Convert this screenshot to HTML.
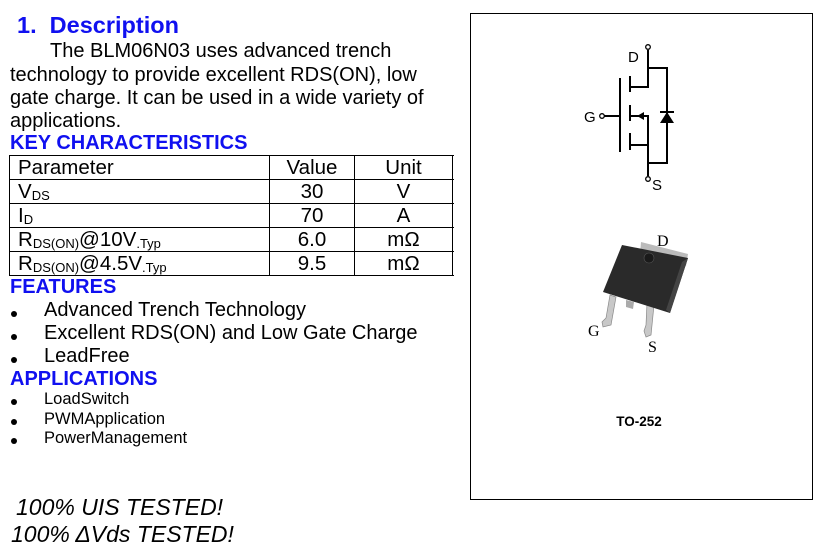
<!DOCTYPE html>
<html><head><meta charset="utf-8"><style>
body{margin:0;width:834px;height:555px;background:#fff;position:relative;overflow:hidden;font-family:"Liberation Sans",Arial,sans-serif;color:#000}
.a{position:absolute;white-space:nowrap;line-height:24px}
.h{color:#1010f0;font-weight:bold}
.t{font-size:20px}
.s{font-size:16.5px}
.b{position:absolute;left:11px;width:6px;height:6px;border-radius:50%;background:#000}
.c{position:absolute;height:24px;line-height:25px;font-size:20.5px;white-space:nowrap}
sub{font-size:13px;vertical-align:-2px;line-height:0}
.ln{position:absolute;background:#000}
</style></head><body>
<div class="a h" style="left:17px;top:13px;font-size:23.5px">1.&nbsp; Description</div>
<div class="a t" style="left:50px;top:39px">The BLM06N03 uses advanced trench</div>
<div class="a t" style="left:10px;top:63px">technology to provide excellent RDS(ON), low</div>
<div class="a t" style="left:10px;top:86px">gate charge. It can be used in a wide variety of</div>
<div class="a t" style="left:10px;top:109px">applications.</div>
<div class="a h" style="left:10px;top:131px;font-size:20px">KEY CHARACTERISTICS</div>
<div class="ln" style="left:9px;top:155px;width:445px;height:1.3px"></div>
<div class="ln" style="left:9px;top:179px;width:445px;height:1.3px"></div>
<div class="ln" style="left:9px;top:203px;width:445px;height:1.3px"></div>
<div class="ln" style="left:9px;top:227px;width:445px;height:1.3px"></div>
<div class="ln" style="left:9px;top:251px;width:445px;height:1.3px"></div>
<div class="ln" style="left:9px;top:275px;width:445px;height:1.3px"></div>
<div class="ln" style="left:9px;top:155px;width:1.3px;height:121px"></div>
<div class="ln" style="left:269px;top:155px;width:1.3px;height:121px"></div>
<div class="ln" style="left:354px;top:155px;width:1.3px;height:121px"></div>
<div class="ln" style="left:452px;top:155px;width:1.3px;height:121px"></div>
<div class="c" style="left:18px;top:155px">Parameter</div>
<div class="c" style="left:18px;top:179px">V<sub>DS</sub></div>
<div class="c" style="left:18px;top:203px">I<sub>D</sub></div>
<div class="c" style="left:18px;top:227px">R<sub>DS(ON)</sub>@10V<sub>.Typ</sub></div>
<div class="c" style="left:18px;top:251px">R<sub>DS(ON)</sub>@4.5V<sub>.Typ</sub></div>
<div class="c" style="left:270px;width:84px;text-align:center;top:155px">Value</div>
<div class="c" style="left:270px;width:84px;text-align:center;top:179px">30</div>
<div class="c" style="left:270px;width:84px;text-align:center;top:203px">70</div>
<div class="c" style="left:270px;width:84px;text-align:center;top:227px">6.0</div>
<div class="c" style="left:270px;width:84px;text-align:center;top:251px">9.5</div>
<div class="c" style="left:355px;width:97px;text-align:center;top:155px">Unit</div>
<div class="c" style="left:355px;width:97px;text-align:center;top:179px">V</div>
<div class="c" style="left:355px;width:97px;text-align:center;top:203px">A</div>
<div class="c" style="left:355px;width:97px;text-align:center;top:227px">mΩ</div>
<div class="c" style="left:355px;width:97px;text-align:center;top:251px">mΩ</div>
<div class="a h" style="left:10px;top:275px;font-size:20px">FEATURES</div>
<div class="b" style="top:311px"></div><div class="a t" style="left:44px;top:298px">Advanced Trench Technology</div>
<div class="b" style="top:334px"></div><div class="a t" style="left:44px;top:321px">Excellent RDS(ON) and Low Gate Charge</div>
<div class="b" style="top:357px"></div><div class="a t" style="left:44px;top:344px">LeadFree</div>
<div class="a h" style="left:10px;top:367px;font-size:20px">APPLICATIONS</div>
<div class="b" style="top:399px"></div><div class="a s" style="left:44px;top:387px">LoadSwitch</div>
<div class="b" style="top:419px"></div><div class="a s" style="left:44px;top:407px">PWMApplication</div>
<div class="b" style="top:438px"></div><div class="a s" style="left:44px;top:426px">PowerManagement</div>
<div class="a" style="left:16px;top:495px;font-size:23px;font-style:italic">100% UIS TESTED!</div>
<div class="a" style="left:11px;top:522px;font-size:23px;font-style:italic">100% ΔVds TESTED!</div>
<div style="position:absolute;left:470px;top:13px;width:341px;height:485px;border:1px solid #000"></div>
<svg style="position:absolute;left:0;top:0" width="834" height="555">
<g stroke="#000" stroke-width="2" fill="none">
<circle cx="648" cy="47" r="2.3" stroke-width="1.3"/>
<circle cx="648" cy="179" r="2.3" stroke-width="1.3"/>
<circle cx="602" cy="116" r="2.3" stroke-width="1.3"/>
<path d="M648 50V87H630M648 68H667V163H648M648 176V116H630M648 145H630M604 116H620M620 78V152M630 76V92M630 105V121M630 133V150M660 112H674"/>
</g>
<polygon points="637,116 644,112 644,120" fill="#000"/>
<polygon points="667,112 660,123 674,123" fill="#000"/>
<text x="628" y="62" font-size="15" font-family="Liberation Sans">D</text>
<text x="584" y="122" font-size="15" font-family="Liberation Sans">G</text>
<text x="652" y="190" font-size="15" font-family="Liberation Sans">S</text>
<polygon points="641,242 688,254 686,266 640,254" fill="#bbb"/>
<polygon points="610,295 616,297 611,325 603,327 602,322 606,318" fill="#c8c8c8" stroke="#888" stroke-width="0.7"/>
<polygon points="647,303 654,305 651,335 646,337 644,331 646,325" fill="#c8c8c8" stroke="#888" stroke-width="0.7"/>
<polygon points="626,300 634,302 633,309 626,307" fill="#aaa"/>
<polygon points="622,245 688,258 670,313 603,292" fill="#2a2a2a"/>
<polygon points="682,262 688,258 670,313 666,310" fill="#444"/>
<circle cx="649" cy="258" r="5" fill="#1a1a1a" stroke="#555" stroke-width="0.6"/>
<text x="657" y="246" font-size="16" font-family="Liberation Serif">D</text>
<text x="588" y="336" font-size="16" font-family="Liberation Serif">G</text>
<text x="648" y="352" font-size="16" font-family="Liberation Serif">S</text>
<text x="639" y="426" font-size="13.5" font-weight="bold" text-anchor="middle" font-family="Liberation Sans">TO-252</text>
</svg>
</body></html>
